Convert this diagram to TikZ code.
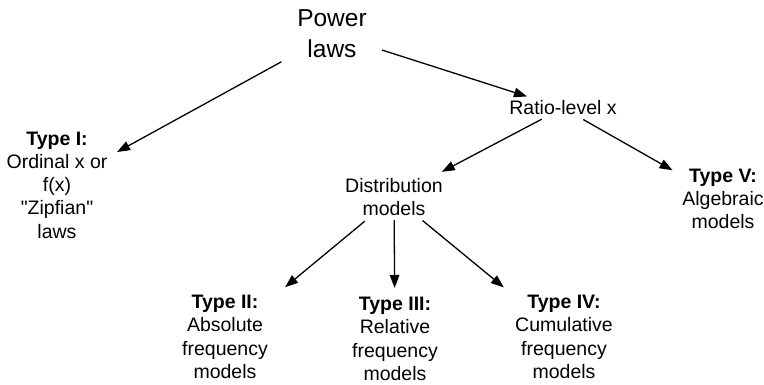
\documentclass[tikz,border=0pt]{standalone}
\usepackage{fontspec}
\setmainfont{Liberation Sans}[Ligatures=TeXOff]
\usetikzlibrary{arrows.meta}
\begin{document}
\begin{tikzpicture}[x=1pt,y=-1pt,
  lbl/.style={inner sep=0pt,outer sep=0pt,align=center,anchor=center,
    font=\fontsize{19.5}{23.3}\selectfont},
  toplbl/.style={lbl,font=\fontsize{24.5}{31}\selectfont},
  link/.style={line width=1.3pt,-{Triangle[length=13pt,width=9.5pt]}}]
\useasboundingbox (0,0) rectangle (764,385);

\node[toplbl] (pl)    at (332,34)  {Power\\laws};
\node[lbl]    (ratio) at (563,108) {Ratio-level x};
\node[lbl]    (t1)    at (57,185)  {\textbf{Type I:}\\Ordinal x or\\f(x)\\"Zipfian"\\laws};
\node[lbl]    (dist)  at (394,197) {Distribution\\models};
\node[lbl]    (t5)    at (723,199) {\textbf{Type V:}\\Algebraic\\models};
\node[lbl]    (t2)    at (225,337) {\textbf{Type II:}\\Absolute\\frequency\\models};
\node[lbl]    (t3)    at (395,339) {\textbf{Type III:}\\Relative\\frequency\\models};
\node[lbl]    (t4)    at (564,337) {\textbf{Type IV:}\\Cumulative\\frequency\\models};

\draw[link,shorten <=57.7pt,shorten >=68.5pt] (pl.center) -- (t1.center);
\draw[link,shorten <=52.5pt,shorten >=37.8pt] (pl.center) -- (ratio.center);
\draw[link,shorten <=24pt,shorten >=54pt] (ratio.center) -- (dist.center);
\draw[link,shorten <=23.3pt,shorten >=58pt] (ratio.center) -- (t5.center);
\draw[link,shorten <=38pt,shorten >=78pt] (dist.center) -- (t2.center);
\draw[link,shorten <=23pt,shorten >=51pt] (dist.center) -- (t3.center);
\draw[link,shorten <=37pt,shorten >=78pt] (dist.center) -- (t4.center);
\end{tikzpicture}
\end{document}
